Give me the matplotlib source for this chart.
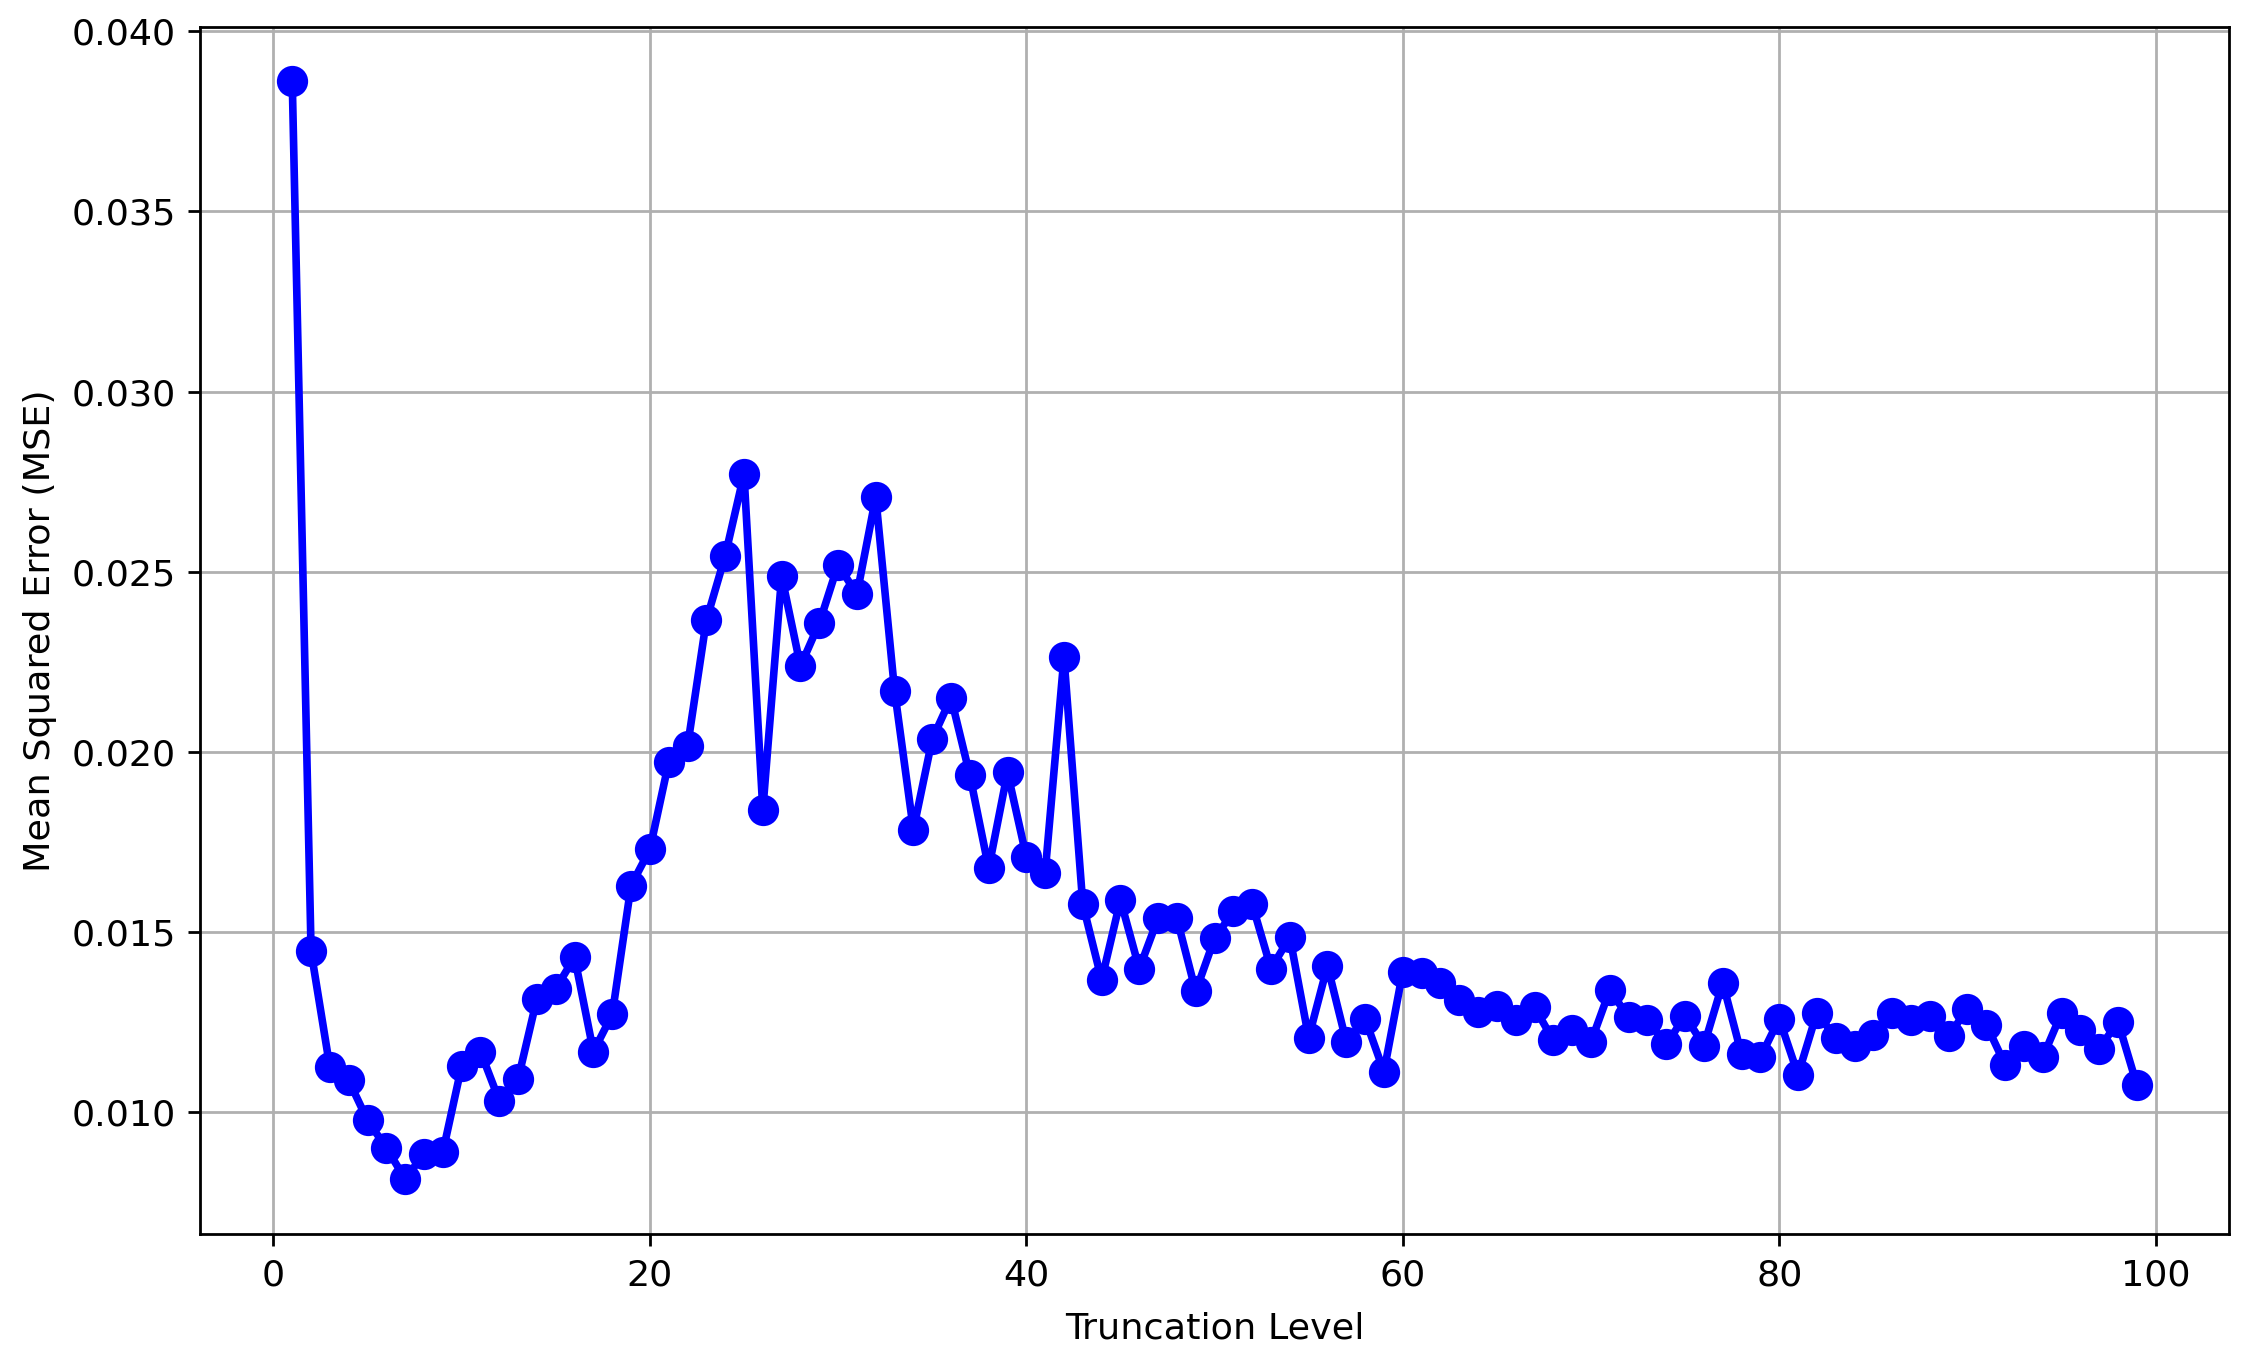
import matplotlib
matplotlib.use("Agg")
import matplotlib.pyplot as plt

# truncation levels 1..99 and the MSE
levels = list(range(1, 100))
mse = [
    0.03861, 0.01446, 0.01124, 0.01088, 0.00977, 0.00901, 0.00814, 0.00885, 0.00889, 0.01128,
    0.01168, 0.01032, 0.01092, 0.01315, 0.01343, 0.01430, 0.01168, 0.01271, 0.01629, 0.01729,
    0.01971, 0.02015, 0.02365, 0.02544, 0.02771, 0.01840, 0.02488, 0.02238, 0.02357, 0.02520,
    0.02437, 0.02707, 0.02170, 0.01784, 0.02035, 0.02150, 0.01935, 0.01677, 0.01943, 0.01709,
    0.01665, 0.02262, 0.01577, 0.01367, 0.01589, 0.01398, 0.01538, 0.01538, 0.01335, 0.01482,
    0.01557, 0.01577, 0.01398, 0.01486, 0.01207, 0.01406, 0.01195, 0.01259, 0.01112, 0.01390,
    0.01386, 0.01359, 0.01311, 0.01279, 0.01295, 0.01255, 0.01291, 0.01199, 0.01227, 0.01195,
    0.01339, 0.01263, 0.01255, 0.01188, 0.01267, 0.01184, 0.01359, 0.01160, 0.01152, 0.01259,
    0.01104, 0.01275, 0.01207, 0.01184, 0.01215, 0.01275, 0.01255, 0.01267, 0.01211, 0.01287,
    0.01243, 0.01132, 0.01184, 0.01152, 0.01275, 0.01227, 0.01176, 0.01251, 0.01076,
]

plt.rcParams['font.size'] = 10.5

fig = plt.figure(figsize=(9, 5.444), dpi=250)
ax = fig.add_subplot(111)
fig.subplots_adjust(left=0.0889, right=0.9907, top=0.9805, bottom=0.0933)

ax.plot(levels, mse, 'o-', color='b', linewidth=2.2, markersize=8)
ax.set_xlabel('Truncation Level', labelpad=5.5)
ax.set_ylabel('Mean Squared Error (MSE)')
ax.grid(True)

fig.savefig('out.png', dpi=250)
